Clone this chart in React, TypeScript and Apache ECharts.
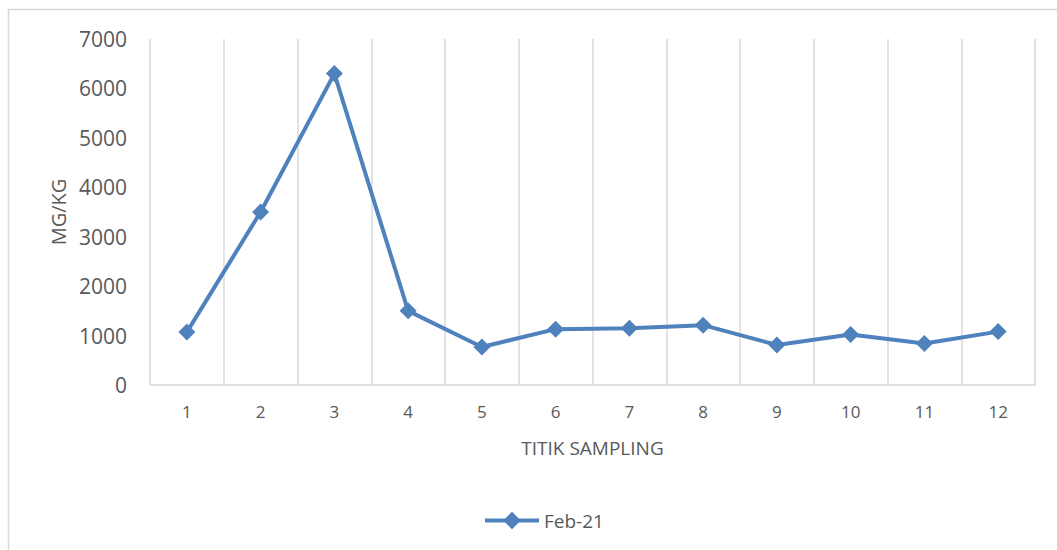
import React, { useEffect, useRef } from "react";
import * as echarts from "echarts";

const categories = ["1", "2", "3", "4", "5", "6", "7", "8", "9", "10", "11", "12"];
const seriesName = "Feb-21";
const values = [1070, 3500, 6300, 1500, 770, 1130, 1150, 1210, 810, 1020, 840, 1080];
const yTicks = { min: 0, max: 7000, interval: 1000 };
const xAxisName = "TITIK SAMPLING";
const yAxisName = "MG/KG";

const FONT = "'Open Sans', 'Liberation Sans', sans-serif";
const TEXT = "#595959";
const GRID = "#d9d9d9";
const BLUE = "#4f81bd";

export default function App() {
  const ref = useRef<HTMLDivElement>(null);
  useEffect(() => {
    if (!ref.current) return;
    const chart = echarts.init(ref.current, undefined, { renderer: "svg" });
    chart.setOption({
      animation: false,
      backgroundColor: "#ffffff",
      textStyle: { fontFamily: FONT },
      graphic: [
        {
          type: "rect",
          shape: { x: 8.5, y: 9.5, width: 1100, height: 600 },
          style: { fill: "none", stroke: GRID, lineWidth: 1.5 },
          silent: true,
          z: -10,
        },
      ],
      grid: { left: 150, right: 22, top: 39, bottom: 165 },
      legend: {
        left: 478,
        top: 506,
        itemWidth: 54,
        itemHeight: 22,
        itemGap: 20,
        lineStyle: { width: 4 },
        textStyle: { color: TEXT, fontSize: 19, fontFamily: FONT },
        data: [seriesName],
      },
      xAxis: {
        type: "category",
        data: categories,
        boundaryGap: true,
        name: xAxisName,
        nameLocation: "middle",
        nameGap: 53,
        nameTextStyle: { color: TEXT, fontSize: 19, fontFamily: FONT },
        axisLine: { lineStyle: { color: GRID, width: 1.5 } },
        axisTick: { show: false },
        axisLabel: { color: TEXT, fontSize: 17, margin: 18, fontFamily: FONT },
        splitLine: { show: true, lineStyle: { color: GRID, width: 1.5 } },
      },
      yAxis: {
        type: "value",
        min: yTicks.min,
        max: yTicks.max,
        interval: yTicks.interval,
        name: yAxisName,
        nameLocation: "middle",
        nameRotate: 90,
        nameGap: 80,
        nameTextStyle: { color: TEXT, fontSize: 20, fontFamily: FONT },
        axisLine: { show: false },
        axisTick: { show: false },
        splitLine: { show: false },
        axisLabel: {
          color: TEXT,
          fontSize: 21,
          margin: 23,
          fontFamily: FONT,
          formatter: (v: number) => String(v),
        },
      },
      series: [
        {
          name: seriesName,
          type: "line",
          data: values,
          symbol: "diamond",
          symbolSize: 17,
          itemStyle: { color: BLUE },
          lineStyle: { color: BLUE, width: 4 },
        },
      ],
    });
    return () => chart.dispose();
  }, []);
  return (
    <div
      ref={ref}
      style={{ position: "fixed", left: 0, top: 0, width: 1057, height: 550 }}
    />
  );
}
